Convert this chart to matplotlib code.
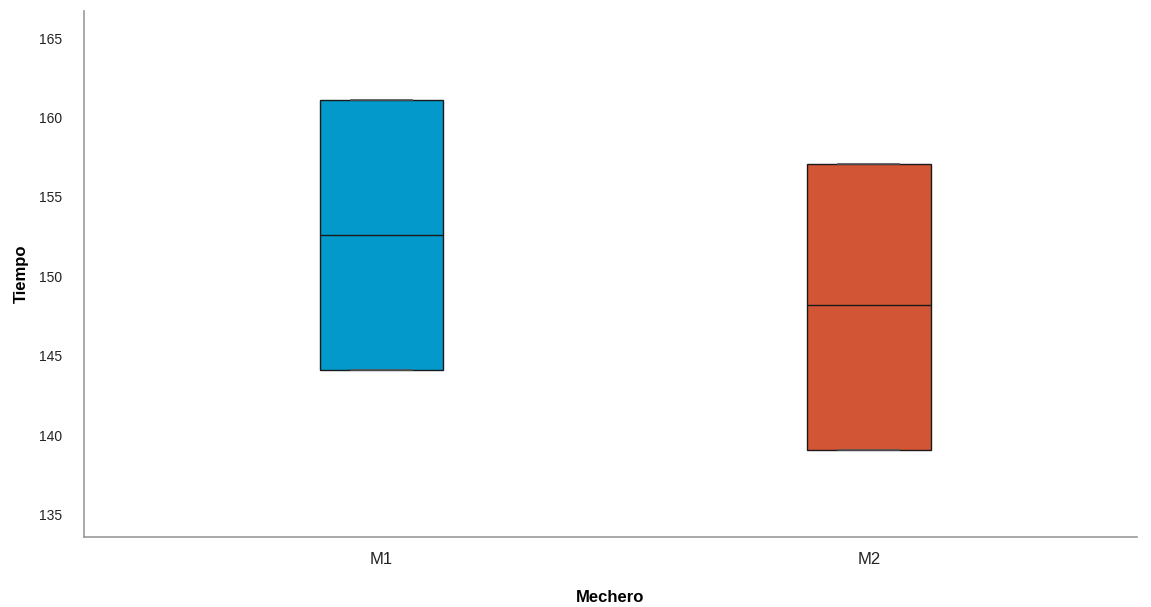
import matplotlib
matplotlib.use("Agg")
import matplotlib.pyplot as plt

plt.rcParams["font.family"] = ["Liberation Sans", "DejaVu Sans"]

# box statistics (whiskers coincide with box edges)
CATEGORIES = ["M1", "M2"]
Q1 = [144.1, 139.1]
MEDIANS = [152.6, 148.2]
Q3 = [161.1, 157.1]
WHISK_LO = [144.1, 139.1]
WHISK_HI = [161.1, 157.1]
COLORS = ["#0399CB", "#D25535"]
Y_TICKS = [135, 140, 145, 150, 155, 160, 165]


def main():
    fig = plt.figure(figsize=(11.51, 6.07), dpi=100)
    ax = fig.add_axes([84 / 1151, 1 - 537 / 607, (1137 - 84) / 1151, (537 - 11) / 607])

    stats = []
    for i, name in enumerate(CATEGORIES):
        stats.append({
            "label": name,
            "q1": Q1[i], "med": MEDIANS[i], "q3": Q3[i],
            "whislo": WHISK_LO[i], "whishi": WHISK_HI[i],
            "fliers": [],
        })

    bp = ax.bxp(stats, positions=[1, 2], widths=0.253, patch_artist=True,
                showfliers=False, capwidths=0.125,
                boxprops=dict(edgecolor="#1a1a1a", linewidth=1.0),
                medianprops=dict(color="#1a1a1a", linewidth=1.0),
                whiskerprops=dict(color="#1a1a1a", linewidth=1.0),
                capprops=dict(color="#555555", linewidth=1.2))
    for patch, c in zip(bp["boxes"], COLORS):
        patch.set_facecolor(c)

    ax.set_xlim(0.39, 2.55)
    ax.set_ylim(133.6, 166.7)
    ax.set_yticks(Y_TICKS)
    ax.set_yticklabels([str(t) for t in Y_TICKS], fontsize=10, color="#222222")
    ax.set_xticks([1, 2])
    ax.set_xticklabels(CATEGORIES, fontsize=12, color="#222222")
    ax.tick_params(axis="both", length=0)
    ax.tick_params(axis="y", pad=16)
    ax.tick_params(axis="x", pad=11)

    for side in ["top", "right"]:
        ax.spines[side].set_visible(False)
    for side in ["left", "bottom"]:
        ax.spines[side].set_color("#999999")
        ax.spines[side].set_linewidth(1.2)

    ax.set_ylabel("Tiempo", fontsize=12, fontweight="bold", labelpad=7)
    ax.set_xlabel("Mechero", fontsize=12, fontweight="bold", labelpad=16)

    fig.savefig("out.png", dpi=100, facecolor="white")
    plt.close(fig)


if __name__ == "__main__":
    main()
